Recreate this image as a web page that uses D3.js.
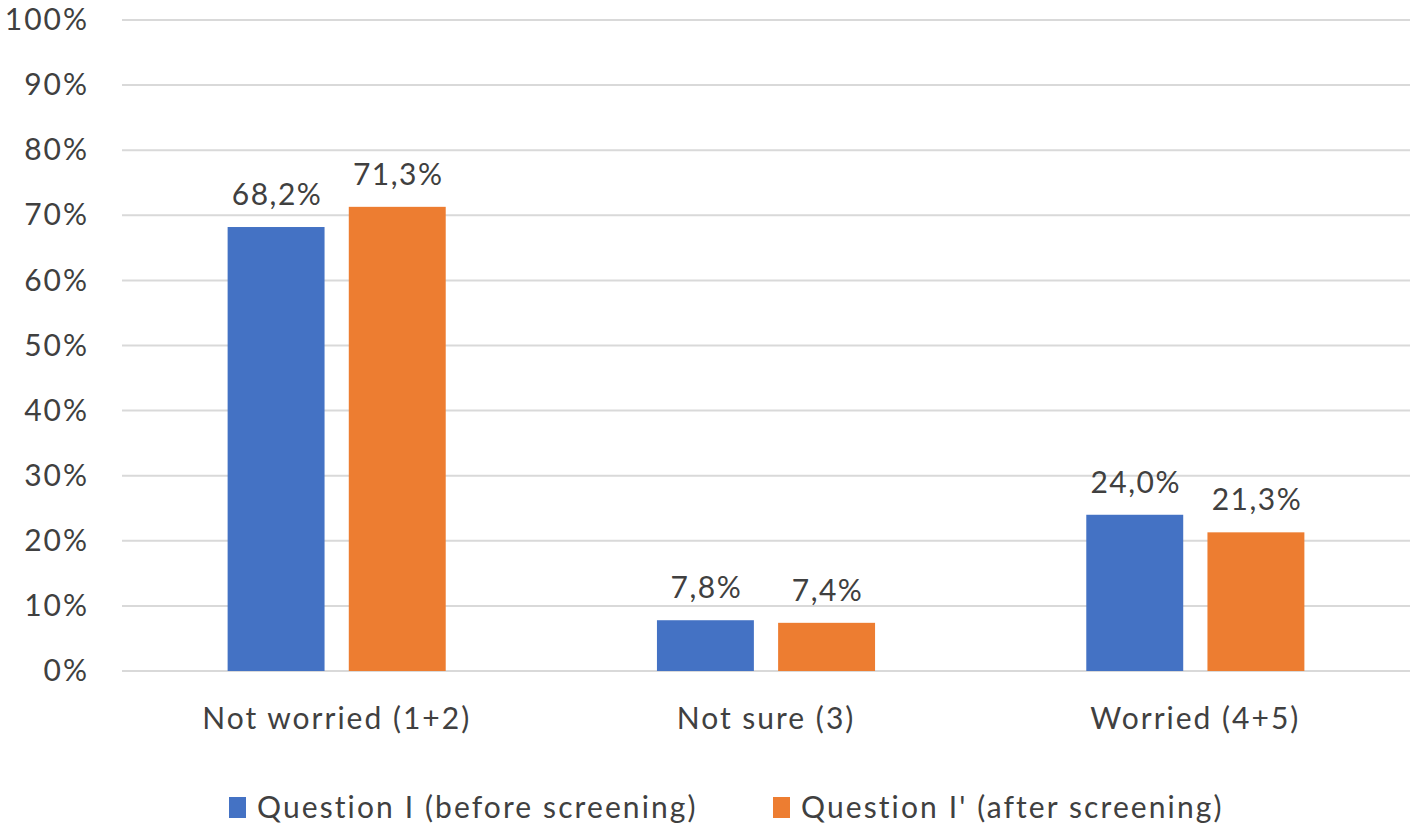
<!DOCTYPE html>
<html>
<head>
<meta charset="utf-8">
<script src="https://cdn.jsdelivr.net/npm/d3@7"></script>
<style>
  body { margin: 0; background: #fff; }
  text { font-family: Lato, "Open Sans", sans-serif; fill: #404040; }
</style>
</head>
<body>
<svg id="chart" width="1418" height="829"></svg>
<script>
// chart data
const categories = ["Not worried (1+2)", "Not sure (3)", "Worried (4+5)"];
const seriesNames = ["Question I (before screening)", "Question I' (after screening)"];
const before = [68.2, 7.8, 24.0];
const after = [71.3, 7.4, 21.3];
const yTicks = [0, 10, 20, 30, 40, 50, 60, 70, 80, 90, 100];
const colours = ["#4472C4", "#ED7D31"];

const svg = d3.select("#chart");
const margin = {left: 122, right: 8, top: 20, bottom: 158};
const width = 1418, height = 829;

const x0 = d3.scaleBand()
    .domain(categories)
    .range([margin.left, width - margin.right])
    .padding(0);

// inner band for the two series, centred in each category
const groupWidth = x0.bandwidth() * 0.508;
const x1 = d3.scaleBand()
    .domain(seriesNames)
    .range([0, groupWidth])
    .paddingInner(0.2);

const y = d3.scaleLinear()
    .domain([0, 100])
    .range([height - margin.bottom, margin.top]);

const fmt = v => v.toFixed(1).replace(".", ",") + "%";

// gridlines
svg.append("g")
    .selectAll("line")
    .data(yTicks)
    .join("line")
    .attr("x1", margin.left)
    .attr("x2", width - margin.right)
    .attr("y1", d => y(d))
    .attr("y2", d => y(d))
    .attr("stroke", "#d9d9d9")
    .attr("stroke-width", 2);

// y axis labels
const yAxis = svg.append("g")
    .attr("transform", `translate(${margin.left - 33},0)`)
    .call(d3.axisLeft(y).tickValues(yTicks).tickFormat(d => d + "%").tickSize(0).tickPadding(0));
yAxis.select(".domain").remove();
yAxis.selectAll("text")
    .attr("font-size", 30)
    .attr("font-family", "Lato, sans-serif")
    .attr("letter-spacing", 2)
    .attr("fill", "#404040");

// x axis labels
const xAxis = svg.append("g")
    .attr("transform", `translate(0,${y(0)})`)
    .call(d3.axisBottom(x0).tickSize(0).tickPadding(37));
xAxis.select(".domain").remove();
xAxis.selectAll("text")
    .attr("font-size", 30)
    .attr("font-family", "Lato, sans-serif")
    .attr("letter-spacing", 2)
    .attr("fill", "#404040");

// rows of grouped values
const rows = categories.map((c, i) => ({cat: c, vals: [before[i], after[i]]}));

const groups = svg.append("g")
    .selectAll("g")
    .data(rows)
    .join("g")
    .attr("transform", d => `translate(${x0(d.cat) + (x0.bandwidth() - groupWidth) / 2},0)`);

groups.selectAll("rect")
    .data(d => d.vals.map((v, j) => ({name: seriesNames[j], v: v, j: j})))
    .join("rect")
    .attr("x", d => x1(d.name))
    .attr("width", x1.bandwidth())
    .attr("y", d => y(d.v))
    .attr("height", d => y(0) - y(d.v))
    .attr("fill", d => colours[d.j]);

groups.selectAll("text.val")
    .data(d => d.vals.map((v, j) => ({name: seriesNames[j], v: v})))
    .join("text")
    .attr("class", "val")
    .attr("x", d => x1(d.name) + x1.bandwidth() / 2 + 1)
    .attr("y", d => y(d.v) - 22)
    .attr("text-anchor", "middle")
    .attr("font-size", 30)
    .attr("letter-spacing", 1.5)
    .text(d => fmt(d.v));

// legend
const legendX = [229, 773];
const legend = svg.append("g")
    .selectAll("g")
    .data(seriesNames)
    .join("g")
    .attr("transform", (d, i) => `translate(${legendX[i]},797)`);

legend.append("rect")
    .attr("width", 17)
    .attr("height", 21)
    .attr("fill", (d, i) => colours[i]);

legend.append("text")
    .attr("x", 28)
    .attr("y", 21)
    .attr("font-size", 30)
    .attr("letter-spacing", 2.1)
    .text(d => d);
</script>
</body>
</html>
